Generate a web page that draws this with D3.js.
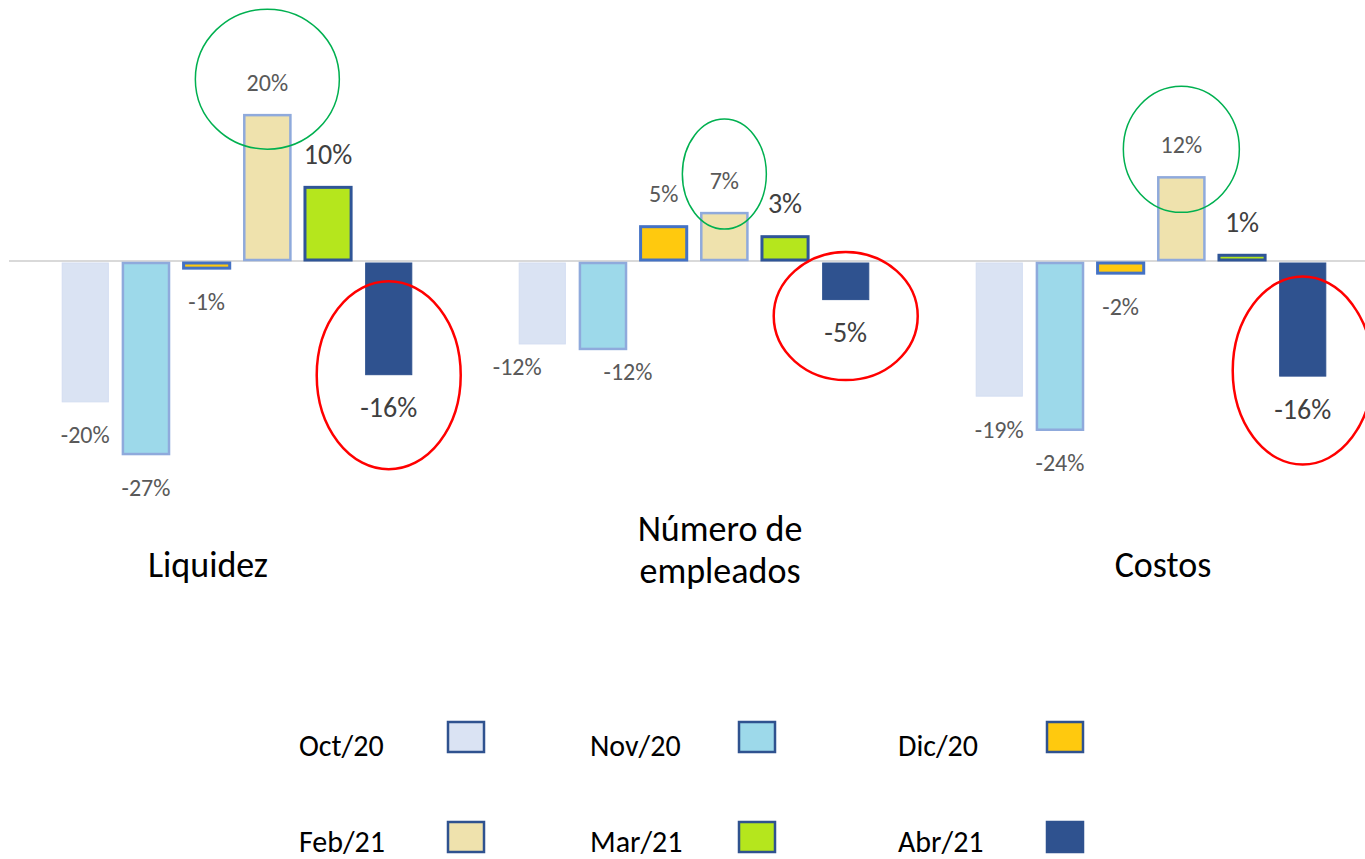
<!DOCTYPE html>
<html>
<head>
<meta charset="utf-8">
<script src="https://cdn.jsdelivr.net/npm/d3@7"></script>
<style>
  body { margin: 0; background: #fff; }
  text { font-family: Calibri, Carlito, Lato, sans-serif; }
</style>
</head>
<body>
<script>
var width = 1365;
var height = 859;

// data (percent change)
var categories = ["Liquidez", "Número de empleados", "Costos"];
var series = ["Oct/20", "Nov/20", "Dic/20", "Feb/21", "Mar/21", "Abr/21"];
var oct20 = [-19.7, -11.6, -18.9];
var nov20 = [-27.0, -12.3, -23.6];
var dic20 = [-1.0, 4.8, -1.7];
var feb21 = [20.4, 6.7, 11.7];
var mar21 = [10.3, 3.4, 0.8];
var abr21 = [-15.9, -5.4, -16.1];
var values = [oct20, nov20, dic20, feb21, mar21, abr21];

// styling per series
var fills = ["#DAE3F3", "#9DD9EA", "#FFC90E", "#EFE2AD", "#B5E61D", "#2F528F"];
var strokes = ["#D3DDF1", "#8FAADC", "#4472C4", "#8FAADC", "#2F5597", "#2F528F"];
var strokeW = [1, 2.5, 3, 2.5, 3, 1];
var bigLabel = [false, false, false, false, true, true];

// annotation ellipses: green on Feb/21, red on Abr/21
var greenRadii = [[72, 70], [42, 55], [58, 63]];
var greenShift = [-3, -6, 5];
var redRadii = [[72, 94], [72, 64], [70, 94]];
var redShift = [-16, 0, -22];

var svg, x0, x1, y;

function init() {
    svg = d3.select("body").append("svg")
        .attr("width", width)
        .attr("height", height);

    x0 = d3.scaleBand()
        .domain(categories)
        .range([8.5, 1379.5]);

    x1 = d3.scaleBand()
        .domain(series)
        .range([0, x0.bandwidth()])
        .paddingInner(0.24)
        .paddingOuter(0.885);

    y = d3.scaleLinear()
        .domain([-30, 25])
        .range([475.5, 82.25]);

    drawChart();
    drawLegend();
}

function labelY(v) {
    return v >= 0 ? y(v) - 33 : y(v) + 33;
}

function drawChart() {
    var rows = [];
    values.forEach(function (vals, s) {
        vals.forEach(function (v, c) {
            rows.push({ s: s, c: c, v: v });
        });
    });

    // zero line
    svg.append("line")
        .attr("x1", 9).attr("x2", width)
        .attr("y1", y(0)).attr("y2", y(0))
        .style("stroke", "#D9D9D9")
        .style("stroke-width", 2);

    svg.selectAll(".bar")
        .data(rows)
        .enter()
        .append("rect")
        .attr("class", "bar")
        .attr("x", function (d) { return x0(categories[d.c]) + x1(series[d.s]); })
        .attr("width", x1.bandwidth())
        .attr("y", function (d) { return d.v >= 0 ? y(d.v) : y(0) + 2; })
        .attr("height", function (d) { return d.v >= 0 ? y(0) - 1 - y(d.v) : y(d.v) - y(0) - 2; })
        .style("fill", function (d) { return fills[d.s]; })
        .style("stroke", function (d) { return strokes[d.s]; })
        .style("stroke-width", function (d) { return strokeW[d.s]; });

    svg.selectAll(".val")
        .data(rows)
        .enter()
        .append("text")
        .attr("class", "val")
        .attr("x", function (d) {
            var cx = x0(categories[d.c]) + x1(series[d.s]) + x1.bandwidth() / 2;
            // empleados: Excel nudged the first two labels sideways
            if (d.c === 1 && d.s === 0) cx -= 25;
            if (d.c === 1 && d.s === 1) cx += 25;
            return cx;
        })
        .attr("y", function (d) {
            var ly = labelY(d.v);
            if (d.c === 1 && d.s < 2) ly -= 10;
            return ly;
        })
        .attr("text-anchor", "middle")
        .attr("dominant-baseline", "central")
        .style("font-size", function (d) { return bigLabel[d.s] ? "28px" : "24px"; })
        .style("fill", function (d) { return bigLabel[d.s] ? "#404040" : "#595959"; })
        .text(function (d) { return Math.round(d.v) + "%"; });

    // green ellipses round the Feb/21 labels
    svg.selectAll(".green")
        .data(feb21)
        .enter()
        .append("ellipse")
        .attr("cx", function (d, i) { return x0(categories[i]) + x1("Feb/21") + x1.bandwidth() / 2; })
        .attr("cy", function (d, i) { return labelY(d) + greenShift[i]; })
        .attr("rx", function (d, i) { return greenRadii[i][0]; })
        .attr("ry", function (d, i) { return greenRadii[i][1]; })
        .style("fill", "none")
        .style("stroke", "#00B050")
        .style("stroke-width", 1.5);

    // red ellipses round the Abr/21 bars
    svg.selectAll(".red")
        .data(abr21)
        .enter()
        .append("ellipse")
        .attr("cx", function (d, i) { return x0(categories[i]) + x1("Abr/21") + x1.bandwidth() / 2; })
        .attr("cy", function (d, i) { return (y(d) + labelY(d)) / 2 + redShift[i]; })
        .attr("rx", function (d, i) { return redRadii[i][0]; })
        .attr("ry", function (d, i) { return redRadii[i][1]; })
        .style("fill", "none")
        .style("stroke", "#FF0000")
        .style("stroke-width", 2.5);

    // category names
    var catX = [208, 720, 1163];
    categories.forEach(function (name, i) {
        var t = svg.append("text")
            .attr("text-anchor", "middle")
            .style("font-size", "36px")
            .style("fill", "#000");
        if (name === "Número de empleados") {
            t.append("tspan").attr("x", catX[i]).attr("y", 541).text("Número de");
            t.append("tspan").attr("x", catX[i]).attr("y", 583).text("empleados");
        } else {
            t.attr("x", catX[i]).attr("y", 577).text(name);
        }
    });
}

function drawLegend() {
    var colX = [299, 590, 898];
    var rowY = [756, 852];

    var item = svg.selectAll(".legend")
        .data(series)
        .enter()
        .append("g")
        .attr("class", "legend")
        .attr("transform", function (d, i) {
            return "translate(" + colX[i % 3] + "," + rowY[Math.floor(i / 3)] + ")";
        });

    item.append("text")
        .attr("x", 0)
        .attr("y", 0)
        .style("font-size", "30px")
        .style("fill", "#000")
        .text(function (d) { return d; });

    item.append("rect")
        .attr("x", 149)
        .attr("y", function (d, i) { return i < 3 ? -34 : -30; })
        .attr("width", 36)
        .attr("height", 30)
        .style("fill", function (d, i) { return fills[i]; })
        .style("stroke", "#2F528F")
        .style("stroke-width", 2.5);
}

init();
</script>
</body>
</html>
